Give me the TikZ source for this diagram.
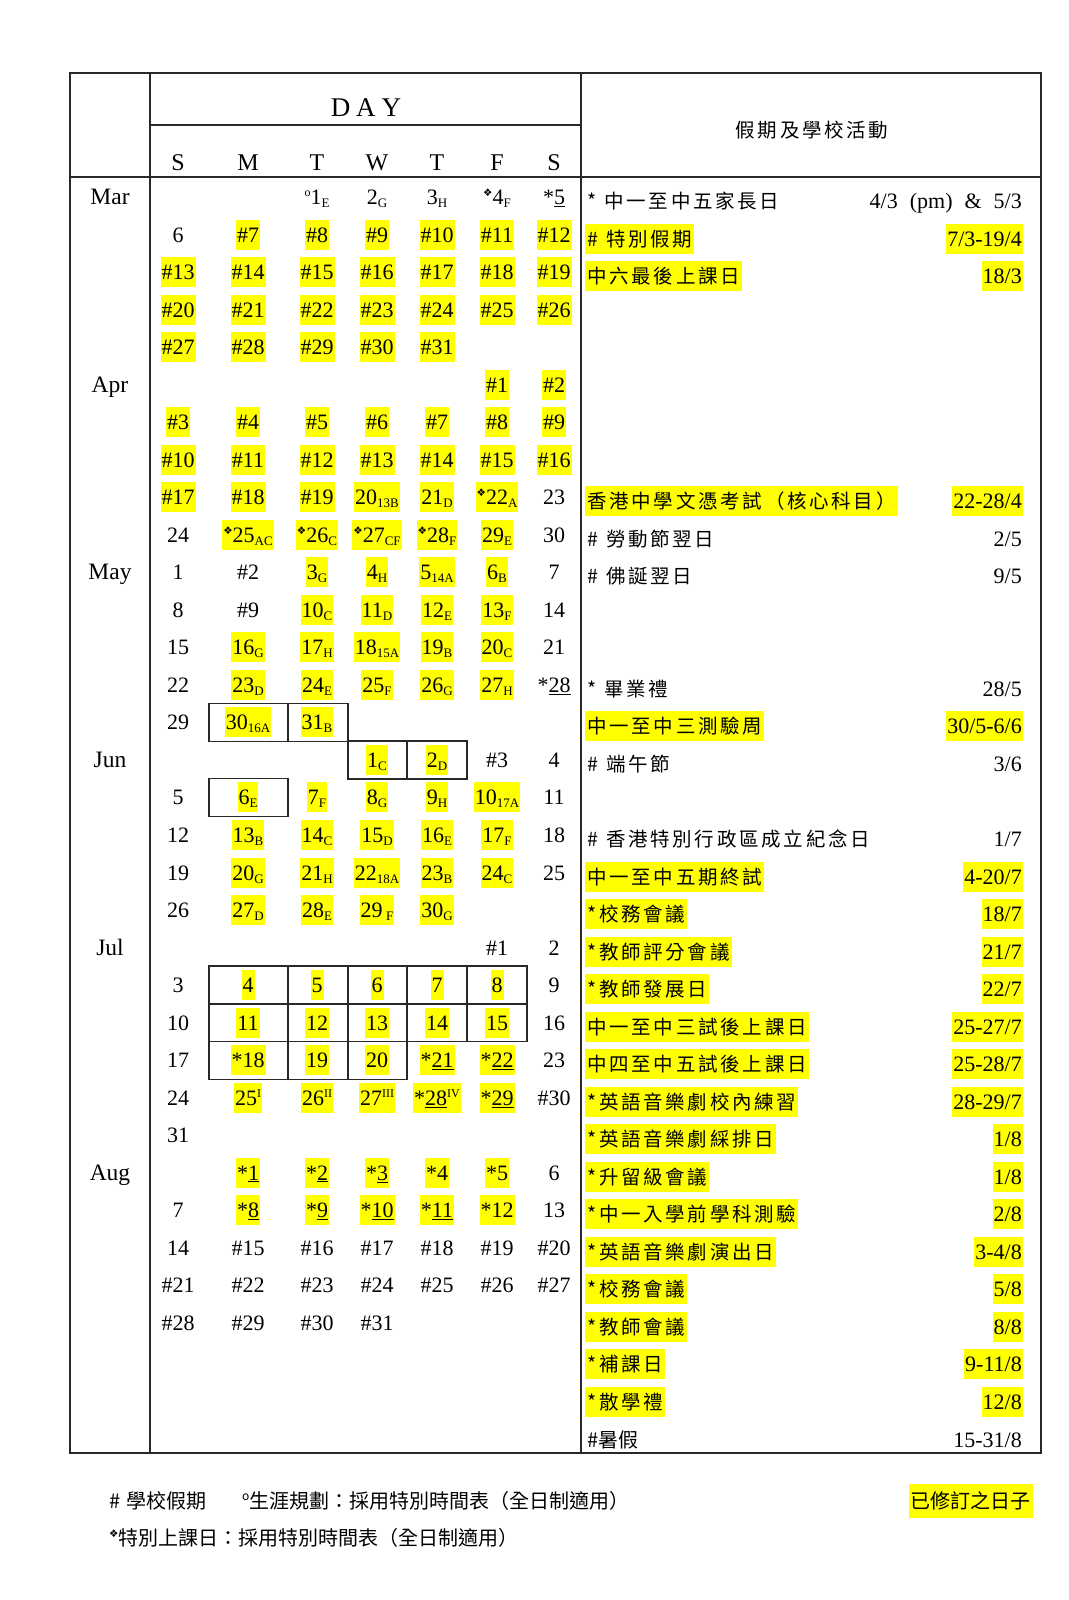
\documentclass[tikz,border=0pt]{standalone}
\usepackage{fontspec}
\setmainfont{Liberation Serif}
\newfontfamily\cjk[LetterSpace=14]{Noto Sans CJK TC}
\newfontfamily\cjkf{Noto Sans CJK TC}
\newfontfamily\symf{DejaVu Sans}
\definecolor{hlyel}{RGB}{255,255,0}
\definecolor{rule}{RGB}{40,40,40}

\newcommand\sbs[1]{\raisebox{-3pt}{\fontsize{13}{13}\selectfont #1}}
\newcommand\sps[1]{\raisebox{8pt}{\fontsize{12}{12}\selectfont #1}}
\newcommand\dia{\raisebox{8pt}{\symf\fontsize{10.5}{10.5}\selectfont ❖}}
\newcommand\actfont{\cjk\fontsize{19.5}{22}\selectfont}
\newcommand\footfont{\cjkf\fontsize{20}{24}\selectfont}

% one day of the calendar: row, column, style, text
\newcommand\cell[4]{%
  \pgfmathsetmacro\xx{{178,248,317,377,437,497,554}[#2]}%
  \node[#3] (d#1-#2) at (\xx,{197+37.53*#1}) {#4};}
\newcommand\calrow[2]{\foreach \cc/\st/\tx in {#2}{\cell{#1}{\cc}{\st}{\tx}}}
\newcommand\hashrow[5]{\foreach \cc [evaluate=\cc as \nn using int(#4+\cc-#2)] in {#2,...,#3}{\cell{#1}{\cc}{#5}{\#\nn}}}
\newcommand\cellbox[2]{%
  \pgfmathsetmacro\xl{{209,288,348,407,467,527}[#2-1]}%
  \pgfmathsetmacro\xr{{209,288,348,407,467,527}[#2]}%
  \draw[boxline] (\xl,{197+37.53*#1-19}) rectangle (\xr,{197+37.53*#1+19});}
% one line of the activity list: row, text style, date style, text, date
\newcommand\act[5]{%
  \node[#2, anchor=west] (a#1) at (585,{201+37.53*#1}) {#4};
  \node[#3, anchor=east] (b#1) at (1023,{201+37.53*#1}) {#5};}

\begin{document}
\begin{tikzpicture}[x=1pt,y=-1pt,
    dnum/.style={font=\fontsize{22}{26}\selectfont, text height=19pt, text depth=4pt, inner xsep=1pt, inner ysep=3.5pt},
    dhl/.style={dnum, fill=hlyel},
    hd/.style={font=\fontsize{24}{28}\selectfont, text height=19pt, text depth=4pt},
    ev/.style={dnum, font=\actfont, inner xsep=2pt},
    evhl/.style={ev, fill=hlyel},
    evf/.style={ev, font=\footfont},
    fn/.style={font=\footfont, anchor=west, text height=18pt, text depth=4pt, inner ysep=6pt, inner xsep=2pt},
    tline/.style={draw=rule, line width=1.8pt},
    boxline/.style={draw=rule, line width=1.3pt}]
\fill[white] (0,0) rectangle (1068,1600);
\useasboundingbox (0,0) rectangle (1068,1600);

% table frame
\draw[tline] (70,73) rectangle (1041,1453);
\draw[tline] (150,73) -- (150,1453);
\draw[tline] (581,73) -- (581,1453);
\draw[tline] (150,125) -- (581,125);
\draw[tline] (70,177) -- (1041,177);

% headers
\node[font=\fontsize{27}{30}\selectfont] (dayhd) at (366,108) {D\hspace{6pt}A\hspace{6pt}Y};
\node[font=\actfont] (acthd) at (812,130) {假期及學校活動};
\foreach \cc/\lt in {0/S,1/M,2/T,3/W,4/T,5/F,6/S}{
  \pgfmathsetmacro\xx{{178,248,317,377,437,497,554}[\cc]}
  \node[hd] (h\cc) at (\xx,163) {\lt};
}
\foreach \r/\m in {0/Mar,5/Apr,10/May,15/Jun,20/Jul,26/Aug}
  \node[hd, font=\fontsize{23.5}{28}\selectfont] (m\m) at (110,{197+37.53*\r}) {\m};

% March
\calrow{0}{2/dnum/\sps{o}1\sbs{E}, 3/dnum/2\sbs{G}, 4/dnum/3\sbs{H}, 5/dnum/\dia4\sbs{F}, 6/dnum/*\underline{5}}
\cell{1}{0}{dnum}{6} \hashrow{1}{1}{6}{7}{dhl}
\hashrow{2}{0}{6}{13}{dhl}
\hashrow{3}{0}{6}{20}{dhl}
\hashrow{4}{0}{4}{27}{dhl}
% April
\hashrow{5}{5}{6}{1}{dhl}
\hashrow{6}{0}{6}{3}{dhl}
\hashrow{7}{0}{6}{10}{dhl}
\hashrow{8}{0}{2}{17}{dhl}
\calrow{8}{3/dhl/20\sbs{13B}, 4/dhl/21\sbs{D}, 5/dhl/\dia22\sbs{A}, 6/dnum/23}
\calrow{9}{0/dnum/24, 1/dhl/\dia25\sbs{AC}, 2/dhl/\dia26\sbs{C}, 3/dhl/\dia27\sbs{CF}, 4/dhl/\dia28\sbs{F}, 5/dhl/29\sbs{E}, 6/dnum/30}
% May
\calrow{10}{0/dnum/1, 1/dnum/\#2, 2/dhl/3\sbs{G}, 3/dhl/4\sbs{H}, 4/dhl/5\sbs{14A}, 5/dhl/6\sbs{B}, 6/dnum/7}
\calrow{11}{0/dnum/8, 1/dnum/\#9, 2/dhl/10\sbs{C}, 3/dhl/11\sbs{D}, 4/dhl/12\sbs{E}, 5/dhl/13\sbs{F}, 6/dnum/14}
\calrow{12}{0/dnum/15, 1/dhl/16\sbs{G}, 2/dhl/17\sbs{H}, 3/dhl/18\sbs{15A}, 4/dhl/19\sbs{B}, 5/dhl/20\sbs{C}, 6/dnum/21}
\calrow{13}{0/dnum/22, 1/dhl/23\sbs{D}, 2/dhl/24\sbs{E}, 3/dhl/25\sbs{F}, 4/dhl/26\sbs{G}, 5/dhl/27\sbs{H}, 6/dnum/*\underline{28}}
\calrow{14}{0/dnum/29, 1/dhl/30\sbs{16A}, 2/dhl/31\sbs{B}}
% June
\calrow{15}{3/dhl/1\sbs{C}, 4/dhl/2\sbs{D}, 5/dnum/\#3, 6/dnum/4}
\calrow{16}{0/dnum/5, 1/dhl/6\sbs{E}, 2/dhl/7\sbs{F}, 3/dhl/8\sbs{G}, 4/dhl/9\sbs{H}, 5/dhl/10\sbs{17A}, 6/dnum/11}
\calrow{17}{0/dnum/12, 1/dhl/13\sbs{B}, 2/dhl/14\sbs{C}, 3/dhl/15\sbs{D}, 4/dhl/16\sbs{E}, 5/dhl/17\sbs{F}, 6/dnum/18}
\calrow{18}{0/dnum/19, 1/dhl/20\sbs{G}, 2/dhl/21\sbs{H}, 3/dhl/22\sbs{18A}, 4/dhl/23\sbs{B}, 5/dhl/24\sbs{C}, 6/dnum/25}
\calrow{19}{0/dnum/26, 1/dhl/27\sbs{D}, 2/dhl/28\sbs{E}, 3/dhl/29\,\sbs{F}, 4/dhl/30\sbs{G}}
% July
\calrow{20}{5/dnum/\#1, 6/dnum/2}
\calrow{21}{0/dnum/3, 1/dhl/4, 2/dhl/5, 3/dhl/6, 4/dhl/7, 5/dhl/8, 6/dnum/9}
\calrow{22}{0/dnum/10, 1/dhl/11, 2/dhl/12, 3/dhl/13, 4/dhl/14, 5/dhl/15, 6/dnum/16}
\calrow{23}{0/dnum/17, 1/dhl/*18, 2/dhl/19, 3/dhl/20, 4/dhl/*\underline{21}, 5/dhl/*\underline{22}, 6/dnum/23}
\calrow{24}{0/dnum/24, 1/dhl/25\sps{I}, 2/dhl/26\sps{II}, 3/dhl/27\sps{III}, 4/dhl/*\underline{28}\sps{IV}, 5/dhl/*\underline{29}, 6/dnum/\#30}
\calrow{25}{0/dnum/31}
% August
\calrow{26}{1/dhl/*\underline{1}, 2/dhl/*\underline{2}, 3/dhl/*\underline{3}, 4/dhl/*4, 5/dhl/*5, 6/dnum/6}
\calrow{27}{0/dnum/7, 1/dhl/*\underline{8}, 2/dhl/*\underline{9}, 3/dhl/*\underline{10}, 4/dhl/*\underline{11}, 5/dhl/*12, 6/dnum/13}
\cell{28}{0}{dnum}{14} \hashrow{28}{1}{6}{15}{dnum}
\hashrow{29}{0}{6}{21}{dnum}
\hashrow{30}{0}{3}{28}{dnum}

% boxed days
\foreach \r/\cc in {14/1,14/2,15/3,15/4,16/1,21/1,21/2,21/3,21/4,21/5,22/1,22/2,22/3,22/4,22/5,23/1,23/2,23/3}{
  \cellbox{\r}{\cc}
}

% holidays and school activities
\act{0}{ev}{dnum}{*\hspace{8pt}中一至中五家長日}{4/3\hspace{12pt}(pm)\hspace{12pt}\&\hspace{12pt}5/3}
\act{1}{evhl}{dhl}{\#\hspace{8pt}特別假期}{7/3-19/4}
\act{2}{evhl}{dhl}{中六最後上課日}{18/3}
\act{8}{evhl}{dhl}{香港中學文憑考試（核心科目）}{22-28/4}
\act{9}{ev}{dnum}{\#\hspace{8pt}勞動節翌日}{2/5}
\act{10}{ev}{dnum}{\#\hspace{8pt}佛誕翌日}{9/5}
\act{13}{ev}{dnum}{*\hspace{8pt}畢業禮}{28/5}
\act{14}{evhl}{dhl}{中一至中三測驗周}{30/5-6/6}
\act{15}{ev}{dnum}{\#\hspace{8pt}端午節}{3/6}
\act{17}{ev}{dnum}{\#\hspace{8pt}香港特別行政區成立紀念日}{1/7}
\act{18}{evhl}{dhl}{中一至中五期終試}{4-20/7}
\act{19}{evhl}{dhl}{*校務會議}{18/7}
\act{20}{evhl}{dhl}{*教師評分會議}{21/7}
\act{21}{evhl}{dhl}{*教師發展日}{22/7}
\act{22}{evhl}{dhl}{中一至中三試後上課日}{25-27/7}
\act{23}{evhl}{dhl}{中四至中五試後上課日}{25-28/7}
\act{24}{evhl}{dhl}{*英語音樂劇校內練習}{28-29/7}
\act{25}{evhl}{dhl}{*英語音樂劇綵排日}{1/8}
\act{26}{evhl}{dhl}{*升留級會議}{1/8}
\act{27}{evhl}{dhl}{*中一入學前學科測驗}{2/8}
\act{28}{evhl}{dhl}{*英語音樂劇演出日}{3-4/8}
\act{29}{evhl}{dhl}{*校務會議}{5/8}
\act{30}{evhl}{dhl}{*教師會議}{8/8}
\act{31}{evhl}{dhl}{*補課日}{9-11/8}
\act{32}{evhl}{dhl}{*散學禮}{12/8}
\act{33}{evf}{dnum}{\#暑假}{15-31/8}

% key
\node[fn] (k1) at (107,1501) {\#\hspace{6pt}學校假期};
\node[fn] (k2) at (240,1501) {\sps{o}生涯規劃：採用特別時間表（全日制適用）};
\node[fn] (k3) at (107,1538) {\dia 特別上課日：採用特別時間表（全日制適用）};
\node[fn, anchor=east, fill=hlyel] (k4) at (1033,1501) {已修訂之日子};
\end{tikzpicture}
\end{document}
